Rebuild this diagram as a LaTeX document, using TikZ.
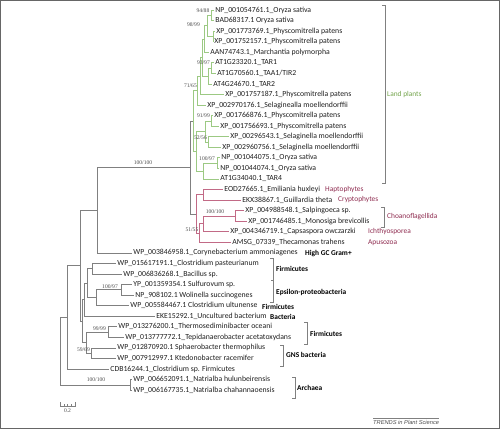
\documentclass[tikz,border=0pt]{standalone}
\usepackage{fontspec}
\setmainfont{Carlito}
\newfontfamily\bsfont{Liberation Serif}
\newfontfamily\trendsfont{Liberation Sans}

\definecolor{plantgreen}{HTML}{9CC983}
\definecolor{plantlabel}{HTML}{72A34A}
\definecolor{protred}{HTML}{C26A86}
\definecolor{protlabel}{HTML}{8E2B4F}
\definecolor{branchgray}{HTML}{808080}

\begin{document}
\begin{tikzpicture}[x=1pt,y=-1pt,
  leaf/.style={anchor=west,inner xsep=1.2pt,inner ysep=0pt,text=black!88,font=\fontsize{7.75}{8}\selectfont},
  bs/.style={inner sep=0pt,text=black!70,font=\bsfont\fontsize{5.6}{6}\selectfont},
  grp/.style={anchor=west,inner sep=0pt,font=\bfseries\fontsize{7.4}{8}\selectfont},
  clab/.style={anchor=west,inner sep=0pt,font=\fontsize{7.4}{8}\selectfont},
  tree/.style={draw=branchgray,line width=0.7pt},
  plant/.style={draw=plantgreen,line width=0.7pt},
  prot/.style={draw=protred,line width=0.7pt},
  clade/.style={draw=branchgray,line width=0.8pt}]
\useasboundingbox (0,0) rectangle (500,429);
\draw[draw=black!60,line width=1.4pt] (0.7,0.7) rectangle (499.3,428.3);

% leaves
\node[leaf] (l1) at (214,10.00) {NP\_001054761.1\_Oryza sativa};
\node[leaf] (l2) at (214,20.56) {BAD68317.1 Oryza sativa};
\node[leaf] (l3) at (215,31.12) {XP\_001773769.1\_Physcomitrella patens};
\node[leaf] (l4) at (213,41.68) {XP\_001752157.1\_Physcomitrella patens};
\node[leaf] (l5) at (209,52.24) {AAN74743.1\_Marchantia polymorpha};
\node[leaf] (l6) at (214,62.80) {AT1G23320.1\_TAR1};
\node[leaf] (l7) at (216,73.36) {AT1G70560.1\_TAA1/TIR2};
\node[leaf] (l8) at (212,83.92) {AT4G24670.1\_TAR2};
\node[leaf] (l9) at (224,94.48) {XP\_001757187.1\_Physcomitrella patens};
\node[leaf] (l10) at (206,105.04) {XP\_002970176.1\_Selaginealla moellendorffii};
\node[leaf] (l11) at (213,115.60) {XP\_001766876.1\_Physcomitrella patens};
\node[leaf] (l12) at (219,126.16) {XP\_001756693.1\_Physcomitrella patens};
\node[leaf] (l13) at (229,136.72) {XP\_00296543.1\_Selaginella moellendorffii};
\node[leaf] (l14) at (221,147.28) {XP\_002960756.1\_Selaginella moellendorffii};
\node[leaf] (l15) at (220,157.84) {NP\_001044075.1\_Oryza sativa};
\node[leaf] (l16) at (219,168.40) {NP\_001044074.1\_Oryza sativa};
\node[leaf] (l17) at (219,178.96) {AT1G34040.1\_TAR4};
\node[leaf] (l18) at (223,189.52) {EOD27665.1\_Emiliania huxleyi};
\node[leaf] (l19) at (241,200.08) {EKX38867.1\_Guillardia theta};
\node[leaf] (l20) at (244,210.64) {XP\_004988548.1\_Salpingoeca sp.};
\node[leaf] (l21) at (247,221.20) {XP\_001746485.1\_Monosiga brevicollis};
\node[leaf] (l22) at (229,231.76) {XP\_004346719.1\_Capsaspora owczarzki};
\node[leaf] (l23) at (231,242.32) {AMSG\_07339\_Thecamonas trahens};
\node[leaf] (l24) at (132,252.88) {WP\_003846958.1\_Corynebacterium ammoniagenes};
\node[leaf] (l25) at (116,263.44) {WP\_015617191.1\_Clostridium pasteurianum};
\node[leaf] (l26) at (122,274.00) {WP\_006836268.1\_Bacillus sp.};
\node[leaf] (l27) at (132,284.56) {YP\_001359354.1 Sulfurovum sp.};
\node[leaf] (l28) at (134,295.12) {NP\_908102.1 Wolinella succinogenes};
\node[leaf] (l29) at (129,305.68) {WP\_005584467.1 Clostridium ultunense};
\node[leaf] (l30) at (155,316.24) {EKE15292.1\_Uncultured bacterium};
\node[leaf] (l31) at (117,326.80) {WP\_013276200.1\_Thermosediminibacter oceani};
\node[leaf] (l32) at (124,337.36) {WP\_013777772.1\_Tepidanaerobacter acetatoxydans};
\node[leaf] (l33) at (116,347.92) {WP\_012870920.1 Sphaerobacter thermophilus};
\node[leaf] (l34) at (116,358.48) {WP\_007912997.1 Ktedonobacter racemifer};
\node[leaf] (l35) at (109,369.04) {CDB16244.1\_Clostridium sp. Firmicutes};
\node[leaf] (l36) at (132,379.60) {WP\_006652091.1\_Natrialba hulunbeirensis};
\node[leaf] (l37) at (132,390.16) {WP\_006167735.1\_Natrialba chahannaoensis};

% internal nodes
\coordinate (n12) at (211,15.28);
\coordinate (n34) at (213,36.40);
\coordinate (n1234) at (207,25.84);
\coordinate (n1235) at (204,39.04);
\coordinate (n67) at (211,68.08);
\coordinate (n678) at (208,76.00);
\coordinate (nTar) at (202,57.52);
\coordinate (nPhy) at (200,76.00);
\coordinate (nSela) at (197,90.52);
\coordinate (n1112) at (211,120.88);
\coordinate (n1314) at (208,142.00);
\coordinate (nMoss) at (205,131.44);
\coordinate (n1516) at (217,163.12);
\coordinate (nRice) at (203,171.04);
\coordinate (nLow) at (196,151.24);
\coordinate (nLand) at (193,120.88);
\coordinate (nHapto) at (203,194.80);
\coordinate (nChoano) at (235,215.92);
\coordinate (nCaps) at (203,223.84);
\coordinate (nApus) at (199,233.08);
\coordinate (nProt) at (196,213.94);
\coordinate (nEuk) at (190,167.41);
\coordinate (nGC) at (97,210.15);
\coordinate (nBac1) at (92,268.72);
\coordinate (nEps) at (121,289.84);
\coordinate (nEpsC) at (96,297.76);
\coordinate (nFirm) at (87,283.24);
\coordinate (nThermo) at (108,332.08);
\coordinate (nGNS) at (91,353.20);
\coordinate (nTG) at (86,342.64);
\coordinate (nUnc) at (84,299.74);
\coordinate (nBact) at (82,321.19);
\coordinate (nCell) at (80,265.67);
\coordinate (nClos) at (67,317.36);
\coordinate (nArch) at (130,384.88);
\coordinate (root) at (60,351.12);

% land plants
\draw[plant] (n12) |- (l1.west);
\draw[plant] (n12) |- (l2.west);
\draw[plant] (n34) |- (l3.west);
\draw[plant] (n34) |- (l4.west);
\draw[plant] (n1234) |- (n12);
\draw[plant] (n1234) |- (n34);
\draw[plant] (n1235) |- (n1234);
\draw[plant] (n1235) |- (l5.west);
\draw[plant] (n67) |- (l6.west);
\draw[plant] (n67) |- (l7.west);
\draw[plant] (n678) |- (n67);
\draw[plant] (n678) |- (l8.west);
\draw[plant] (nTar) |- (n1235);
\draw[plant] (nTar) |- (n678);
\draw[plant] (nPhy) |- (nTar);
\draw[plant] (nPhy) |- (l9.west);
\draw[plant] (nSela) |- (nPhy);
\draw[plant] (nSela) |- (l10.west);
\draw[plant] (n1112) |- (l11.west);
\draw[plant] (n1112) |- (l12.west);
\draw[plant] (n1314) |- (l13.west);
\draw[plant] (n1314) |- (l14.west);
\draw[plant] (nMoss) |- (n1112);
\draw[plant] (nMoss) |- (n1314);
\draw[plant] (n1516) |- (l15.west);
\draw[plant] (n1516) |- (l16.west);
\draw[plant] (nRice) |- (n1516);
\draw[plant] (nRice) |- (l17.west);
\draw[plant] (nLow) |- (nMoss);
\draw[plant] (nLow) |- (nRice);
\draw[plant] (nLand) |- (nSela);
\draw[plant] (nLand) |- (nLow);

% other eukaryotes
\draw[prot] (nHapto) |- (l18.west);
\draw[prot] (nHapto) |- (l19.west);
\draw[prot] (nChoano) |- (l20.west);
\draw[prot] (nChoano) |- (l21.west);
\draw[prot] (nCaps) |- (nChoano);
\draw[prot] (nCaps) |- (l22.west);
\draw[prot] (nApus) |- (nCaps);
\draw[prot] (nApus) |- (l23.west);
\draw[prot] (nProt) |- (nHapto);
\draw[prot] (nProt) |- (nApus);
\draw[tree] (nEuk) |- (nLand);
\draw[tree] (nEuk) |- (nProt);

% prokaryotes
\draw[tree] (nGC) |- (nEuk);
\draw[tree] (nGC) |- (l24.west);
\draw[tree] (nBac1) |- (l25.west);
\draw[tree] (nBac1) |- (l26.west);
\draw[tree] (nEps) |- (l27.west);
\draw[tree] (nEps) |- (l28.west);
\draw[tree] (nEpsC) |- (nEps);
\draw[tree] (nEpsC) |- (l29.west);
\draw[tree] (nFirm) |- (nBac1);
\draw[tree] (nFirm) |- (nEpsC);
\draw[tree] (nThermo) |- (l31.west);
\draw[tree] (nThermo) |- (l32.west);
\draw[tree] (nGNS) |- (l33.west);
\draw[tree] (nGNS) |- (l34.west);
\draw[tree] (nTG) |- (nThermo);
\draw[tree] (nTG) |- (nGNS);
\draw[tree] (nUnc) |- (nFirm);
\draw[tree] (nUnc) |- (l30.west);
\draw[tree] (nBact) |- (nUnc);
\draw[tree] (nBact) |- (nTG);
\draw[tree] (nCell) |- (nGC);
\draw[tree] (nCell) |- (nBact);
\draw[tree] (nClos) |- (nCell);
\draw[tree] (nClos) |- (l35.west);
\draw[tree] (nArch) |- (l36.west);
\draw[tree] (nArch) |- (l37.west);
\draw[tree] (root) |- (nClos);
\draw[tree] (root) |- (nArch);

% support values
\node[bs,anchor=east] (b1) at (209.5,10.5) {94/88};
\node[bs,anchor=east] (b2) at (200,25) {98/99};
\node[bs,anchor=east] (b3) at (210,62.5) {93/97};
\node[bs,anchor=east] (b4) at (197,85.5) {71/65};
\node[bs,anchor=east] (b5) at (210,115.5) {91/99};
\node[bs,anchor=east] (b6) at (207,137.5) {52/56};
\node[bs,anchor=east] (b7) at (215,159) {100/97};
\node[bs] (b8) at (143,163) {100/100};
\node[bs] (b9) at (215,212) {100/100};
\node[bs,anchor=east] (b10) at (198.5,229.5) {51/55};
\node[bs,anchor=east] (b11) at (118,286.5) {100/97};
\node[bs,anchor=east] (b12) at (106,329) {99/99};
\node[bs,anchor=east] (b13) at (90,349.5) {59/69};
\node[bs] (b14) at (96,380) {100/100};

% groups
\draw[clade] (382,5) -- (385,5) -- (385,183) -- (382,183);
\node[clab,text=plantlabel] (gLand) at (387,95) {Land plants};
\node[clab,text=protlabel] (gHapto) at (325,189.5) {Haptophytes};
\node[clab,text=protlabel] (gCrypto) at (338,200) {Cryptophytes};
\draw[clade] (381,207) -- (384,207) -- (384,227) -- (381,227);
\node[clab,text=protlabel] (gChoano) at (387,216.5) {Choanoflagellida};
\node[clab,text=protlabel] (gIchthyo) at (368,232) {Ichthyosporea};
\node[clab,text=protlabel] (gApus) at (368,243) {Apusozoa};
\node[grp] (gGC) at (305,253.5) {High GC Gram+};
\draw[clade] (270,258) -- (273,258) -- (273,302) -- (270,302);
\draw[clade] (271,280) -- (273,280);
\node[grp] (gFirm1) at (276,269) {Firmicutes};
\node[grp] (gEps) at (276,292) {Epsilon-proteobacteria};
\node[grp] (gFirm2) at (262,306.5) {Firmicutes};
\node[grp] (gBact) at (270,317) {Bacteria};
\draw[clade] (304,322) -- (307,322) -- (307,344) -- (304,344);
\node[grp] (gFirm3) at (310,334) {Firmicutes};
\draw[clade] (280,345) -- (283,345) -- (283,366) -- (280,366);
\node[grp] (gGNS) at (286,355) {GNS bacteria};
\draw[clade] (292,377) -- (295,377) -- (295,398) -- (292,398);
\node[grp] (gArch) at (297,387.5) {Archaea};

% scale bar
\draw[tree,line width=0.5pt] (60,402) -- (60,406) -- (75,406) -- (75,402);
\draw[tree,line width=0.4pt] (63.75,404) -- (63.75,406) (67.5,404) -- (67.5,406) (71.25,404) -- (71.25,406);
\node[bs] (scale) at (67.5,411) {0.2};

\node[anchor=west,inner sep=0pt,text=black!70,font=\trendsfont\itshape\fontsize{5.7}{6}\selectfont] (trends) at (373,422) {TRENDS in Plant Science};
\draw[black!50,line width=0.4pt] ([yshift=2pt]trends.north west) -- ([yshift=2pt]trends.north east);
\end{tikzpicture}
\end{document}
